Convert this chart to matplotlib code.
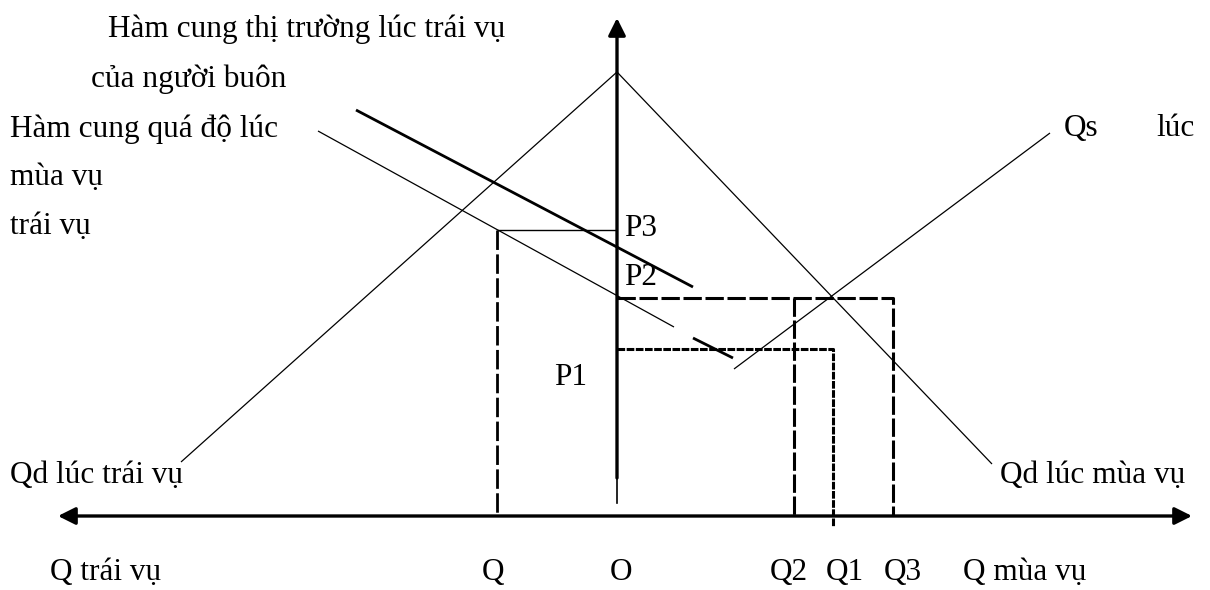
import matplotlib.pyplot as plt

plt.rcParams['font.family'] = ['Liberation Serif', 'DejaVu Serif']

# origin of the diagram and the axes (in picture units, y grows downward)
origin_x = 617
axis_y = 516

# demand curves: from the common apex down to each side
qd_trai_vu = [(617, 72), (181, 462)]
qd_mua_vu = [(617, 72), (992, 464)]
qs_mua_vu = [(734, 369), (1050, 133)]

# supply of traders (thick) and the transition supply (thin, then short thick piece)
cung_thi_truong = [(356, 110), (693, 287)]
cung_qua_do = [(318, 131), (674, 327)]
cung_qua_do_tail = [(693, 338), (733, 358)]

# price levels and quantities
price_names = ['P3', 'P2', 'P1']
price_y = [230, 298, 349]
q_names = ['Q', 'O', 'Q2', 'Q1', 'Q3']
q_x = [497, 617, 794, 833, 893]
q_label_x = [493, 621, 789, 845, 903]

fig = plt.figure(figsize=(12.1, 5.9), dpi=100)
ax = fig.add_axes([0, 0, 1, 1])
ax.set_xlim(0, 1210)
ax.set_ylim(590, 0)
ax.axis('off')

# axes with arrows
ax.annotate('', xy=(1192, axis_y), xytext=(58, axis_y),
            arrowprops=dict(arrowstyle='<|-|>', lw=2.4, color='black',
                            mutation_scale=26, shrinkA=0, shrinkB=0))
ax.annotate('', xy=(origin_x, 18), xytext=(origin_x, 478),
            arrowprops=dict(arrowstyle='-|>', lw=2.4, color='black',
                            mutation_scale=26, shrinkA=0, shrinkB=0))
ax.plot([origin_x, origin_x], [476, 503], color='black', lw=1.2)

def seg(pts, **kw):
    xs = [p[0] for p in pts]
    ys = [p[1] for p in pts]
    ax.plot(xs, ys, color='black', solid_capstyle='butt', **kw)

seg(qd_trai_vu, lw=0.9)
seg(qd_mua_vu, lw=0.9)
seg(qs_mua_vu, lw=0.9)
seg(cung_thi_truong, lw=2.0)
seg(cung_qua_do, lw=0.9)
seg(cung_qua_do_tail, lw=2.0)

# P3 guide (solid) and dashed drop to Q
seg([(q_x[0], price_y[0]), (origin_x, price_y[0])], lw=1.0)
ax.plot([q_x[0], q_x[0]], [price_y[0], axis_y], color='black', lw=2.0,
        dashes=(7, 1.6))

# P2 guides to Q2 and Q3
ax.plot([origin_x, q_x[4], q_x[4]], [price_y[1], price_y[1], axis_y],
        color='black', lw=2.2, dashes=(6, 1.2))
ax.plot([q_x[2], q_x[2]], [price_y[1], axis_y], color='black', lw=2.2,
        dashes=(6, 1.2))

# P1 guide to Q1 (goes a bit below the axis)
ax.plot([origin_x, q_x[3], q_x[3]], [price_y[2], price_y[2], 527],
        color='black', lw=2.2, dashes=(2.5, 0.5))

fs = 22.5
kw = dict(fontsize=fs, va='baseline')
ax.text(108, 37, 'Hàm cung thị trường lúc trái vụ', **kw)
ax.text(91, 87, 'của người buôn', **kw)
ax.text(10, 137, 'Hàm cung quá độ lúc', **kw)
ax.text(10, 185, 'mùa vụ', **kw)
ax.text(10, 234, 'trái vụ', **kw)

ax.text(624, 236, price_names[0], **kw)
ax.text(624, 285, price_names[1], **kw)
ax.text(554, 385, price_names[2], **kw)

ax.text(1064, 136, 'Qs', **kw)
ax.text(1156, 136, 'lúc', **kw)
ax.text(10, 483, 'Qd lúc trái vụ', **kw)
ax.text(1000, 483, 'Qd lúc mùa vụ', **kw)

label_y = 580
ax.text(50, label_y, 'Q trái vụ', **kw)
for name, x in zip(q_names, q_label_x):
    ax.text(x, label_y, name, ha='center', **kw)
ax.text(963, label_y, 'Q mùa vụ', **kw)

fig.savefig('out.png', dpi=100)
